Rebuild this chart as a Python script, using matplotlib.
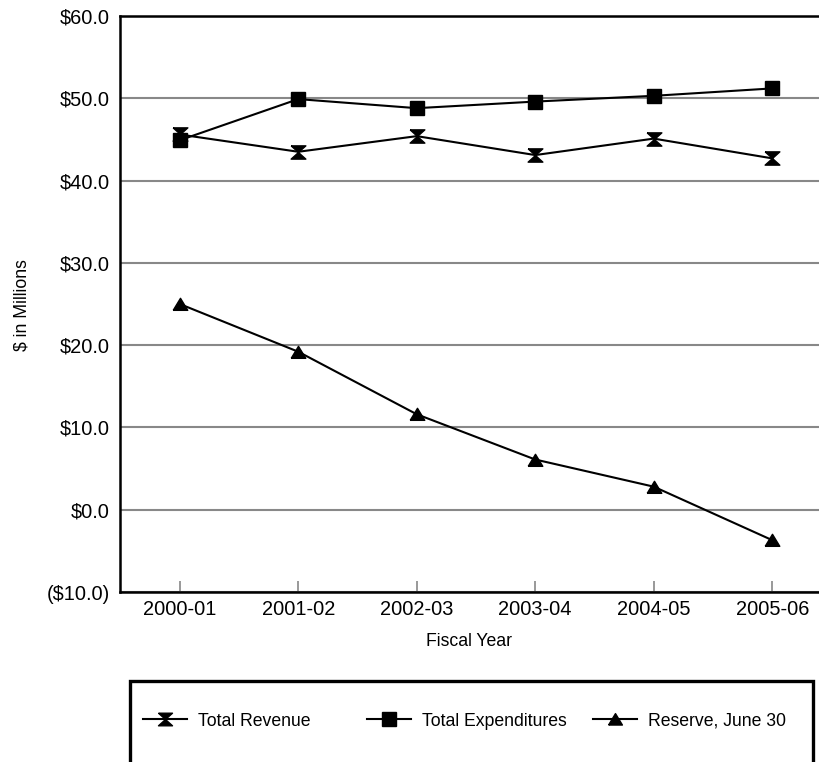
import matplotlib.pyplot as plt
from matplotlib.patches import Rectangle

plt.rcParams['font.family'] = ['Liberation Sans', 'DejaVu Sans']

years = ['2000-01', '2001-02', '2002-03', '2003-04', '2004-05', '2005-06']
revenue = [45.6, 43.5, 45.4, 43.1, 45.1, 42.7]
expenditures = [44.9, 49.9, 48.8, 49.6, 50.3, 51.2]
reserve = [25.0, 19.2, 11.6, 6.1, 2.8, -3.7]
yticks = [-10, 0, 10, 20, 30, 40, 50, 60]

# custom markers (excel look)
hourglass = [(-1, 0.9), (1, 0.9), (0, 0), (1, -0.9), (-1, -0.9), (0, 0), (-1, 0.9)]
triangle = [(-1, -0.8), (1, -0.8), (0, 0.85), (-1, -0.8)]

fig = plt.figure(figsize=(8.2, 7.62), dpi=100)
ax = fig.add_axes([120.5 / 820, 170 / 762, 711 / 820, 576 / 762])

x = list(range(len(years)))
ax.plot(x, revenue, color='k', lw=1.5, marker=hourglass, ms=10.6, label='Total Revenue')
ax.plot(x, expenditures, color='k', lw=1.5, marker='s', ms=10.6, label='Total Expenditures')
ax.plot(x, reserve, color='k', lw=1.5, marker=triangle, ms=10.5, label='Reserve, June 30')

ax.set_xlim(-0.5, len(years) - 0.5)
ax.set_ylim(-10, 60)
ax.set_yticks(yticks)
ax.set_yticklabels(['(${:.1f})'.format(-v) if v < 0 else '${:.1f}'.format(v) for v in yticks],
                   fontsize=14.4)
ax.set_xticks(x)
ax.set_xticklabels(years, fontsize=14.4)
ax.tick_params(axis='y', length=0, pad=7.5)
ax.tick_params(axis='x', direction='in', length=8, width=1.2, color='#888888', pad=6)
ax.yaxis.grid(True, color='#888888', lw=1.5)
ax.set_axisbelow(True)
for s in ['left', 'bottom', 'top']:
    ax.spines[s].set_linewidth(1.8)
ax.spines['right'].set_visible(False)

fig.text(469 / 820, 1 - 642 / 762, 'Fiscal Year', fontsize=12.7, ha='center', va='center')
fig.text(22 / 820, 1 - 305 / 762, '$ in Millions', rotation=90, fontsize=12.7,
         ha='center', va='center')

# legend box, bottom edge runs off the picture
fig.patches.append(Rectangle((130 / 820, -0.02), 683 / 820, 81 / 762 + 0.02,
                             transform=fig.transFigure, fill=False, ec='k', lw=2.4))
lines = ax.get_lines()
for ln, xpos in zip(lines, [143, 367, 593]):
    fig.legend([ln], [ln.get_label()], loc='center left',
               bbox_to_anchor=(xpos / 820, 1 - 721 / 762), frameon=False,
               borderaxespad=0, borderpad=0, fontsize=12.7,
               handlelength=2.5, handletextpad=0.6, markerscale=0.95)

fig.savefig('out.png', dpi=100)
